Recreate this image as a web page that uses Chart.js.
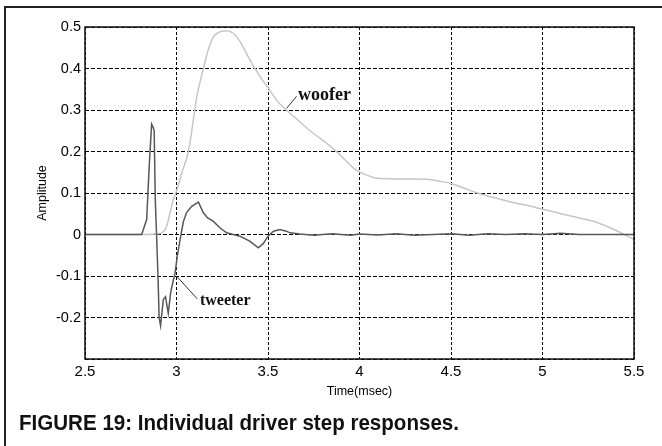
<!DOCTYPE html>
<html>
<head>
<meta charset="utf-8">
<script src="https://cdn.jsdelivr.net/npm/chart.js@4.4.1/dist/chart.umd.min.js"></script>
<style>
  html, body { margin: 0; padding: 0; background: #fff; }
  #wrap { width: 662px; height: 446px; position: relative; }
</style>
</head>
<body>
<div id="wrap"><canvas id="Chart" width="662" height="446"></canvas></div>
<script>
// woofer step response (time in msec, amplitude)
const woofT = [2.5, 2.8, 2.9, 2.92, 2.946, 2.98, 3.0, 3.03, 3.065, 3.09, 3.11, 3.13, 3.147, 3.17, 3.2, 3.23, 3.27,
  3.31, 3.35, 3.39, 3.43, 3.47, 3.5, 3.55, 3.6, 3.66, 3.73, 3.79, 3.84, 3.88, 3.92, 3.96, 3.99, 4.04, 4.08, 4.12,
  4.2, 4.3, 4.37, 4.44, 4.5, 4.57, 4.645, 4.7, 4.77, 4.85, 4.92, 4.99, 5.05, 5.12, 5.2, 5.28, 5.35, 5.42, 5.5];
const woofA = [0, 0, 0.002, 0.004, 0.02, 0.08, 0.105, 0.15, 0.2, 0.27, 0.33, 0.37, 0.4, 0.44, 0.475, 0.487, 0.491,
  0.485, 0.463, 0.43, 0.399, 0.372, 0.354, 0.322, 0.3, 0.277, 0.25, 0.23, 0.213, 0.198, 0.18, 0.163, 0.153, 0.143, 0.137, 0.135,
  0.134, 0.134, 0.133, 0.128, 0.123, 0.112, 0.1, 0.093, 0.085, 0.076, 0.07, 0.062, 0.056, 0.048, 0.04, 0.032, 0.02, 0.006, -0.012];

// tweeter step response
const tweetT = [2.5, 2.81, 2.837, 2.851, 2.864, 2.873, 2.878, 2.884, 2.891, 2.9, 2.905, 2.913, 2.92, 2.928, 2.94,
  2.955, 2.968, 2.98, 2.992, 3.005, 3.02, 3.037, 3.055, 3.083, 3.12, 3.146, 3.17, 3.2, 3.24, 3.274, 3.31, 3.347,
  3.4, 3.447, 3.474, 3.5, 3.53, 3.565, 3.6, 3.62, 3.675, 3.75, 3.85, 3.95, 4.0, 4.1, 4.2, 4.3, 4.4, 4.5, 4.6, 4.7,
  4.8, 4.9, 5.0, 5.1, 5.2, 5.5];
const tweetA = [0, 0, 0.036, 0.165, 0.266, 0.258, 0.25, 0.085, 0, -0.117, -0.2, -0.22, -0.19, -0.157, -0.15,
  -0.19, -0.14, -0.115, -0.093, -0.05, -0.012, 0.03, 0.053, 0.068, 0.078, 0.053, 0.04, 0.032, 0.015, 0.004, 0, -0.004,
  -0.016, -0.032, -0.022, -0.004, 0.008, 0.012, 0.008, 0.004, 0.001, -0.002, 0.002, -0.002, 0.001, -0.001, 0.002, -0.002, 0,
  0.002, -0.002, 0.002, 0, 0.002, 0, 0.003, 0, 0];

const xTitle = "Time(msec)";
const yTitle = "Amplitude";
const caption = "FIGURE 19: Individual driver step responses.";

// labels with their leader lines, in data units
const notes = [
  { text: "woofer", x: 3.664, y: 0.324, size: 18, from: [3.656, 0.333], to: [3.602, 0.304] },
  { text: "tweeter", x: 3.128, y: -0.169, size: 16, from: [3.113, -0.155], to: [3.0, -0.1] },
];

const toXY = (ts, as) => ts.map((t, i) => ({ x: t, y: as[i] }));
const fmt = (v) => String(Math.round(v * 10) / 10);
const sansFont = '"Liberation Sans", Arial, sans-serif';

const extras = {
  id: "extras",
  afterDatasetsDraw(chart) {
    const { ctx, chartArea: a, scales } = chart;
    const sx = scales.x, sy = scales.y;
    ctx.save();
    // axis box
    ctx.strokeStyle = "#111";
    ctx.lineWidth = 1.5;
    ctx.strokeRect(a.left, a.top, a.right - a.left, a.bottom - a.top);
    // notes
    notes.forEach((n) => {
      ctx.strokeStyle = "#333";
      ctx.lineWidth = 1;
      ctx.beginPath();
      ctx.moveTo(sx.getPixelForValue(n.from[0]), sy.getPixelForValue(n.from[1]));
      ctx.lineTo(sx.getPixelForValue(n.to[0]), sy.getPixelForValue(n.to[1]));
      ctx.stroke();
      ctx.fillStyle = "#111";
      ctx.font = "bold " + n.size + 'px "Liberation Serif", "Times New Roman", serif';
      ctx.textBaseline = "alphabetic";
      ctx.fillText(n.text, sx.getPixelForValue(n.x), sy.getPixelForValue(n.y));
    });
    ctx.restore();
  },
  afterDraw(chart) {
    const ctx = chart.ctx;
    ctx.save();
    // outer frame: top and left edges only
    ctx.strokeStyle = "#222";
    ctx.lineWidth = 2;
    ctx.beginPath();
    ctx.moveTo(662, 7);
    ctx.lineTo(5, 7);
    ctx.lineTo(5, 446);
    ctx.stroke();
    // caption, condensed bold
    ctx.fillStyle = "#111";
    ctx.font = 'bold 22px "Liberation Sans Narrow", "Liberation Sans", Arial, sans-serif';
    const w = ctx.measureText(caption).width;
    ctx.translate(19, 430);
    ctx.scale(440 / w, 1);
    ctx.textBaseline = "alphabetic";
    ctx.fillText(caption, 0, 0);
    ctx.restore();
  },
};

const makeChart = () => {
  const ctx = document.getElementById("Chart").getContext("2d");
  new Chart(ctx, {
    type: "line",
    data: {
      datasets: [
        {
          label: "tweeter",
          data: toXY(tweetT, tweetA),
          borderColor: "#585858",
          borderWidth: 1.5,
          pointRadius: 0,
          tension: 0,
        },
        {
          label: "woofer",
          data: toXY(woofT, woofA),
          borderColor: "#c6c6c6",
          borderWidth: 1.5,
          pointRadius: 0,
          cubicInterpolationMode: "monotone",
        },
      ],
    },
    options: {
      responsive: false,
      animation: false,
      layout: { padding: { top: 27, right: 28, left: 0, bottom: 0 } },
      plugins: { legend: { display: false }, tooltip: { enabled: false } },
      scales: {
        x: {
          type: "linear",
          min: 2.5,
          max: 5.5,
          afterFit: (s) => { s.height = 87; },
          ticks: { stepSize: 0.5, color: "#000", padding: 4, font: { family: sansFont, size: 15 }, callback: fmt },
          grid: { color: "#000", lineWidth: 1, drawTicks: false },
          border: { display: false, dash: [3, 2] },
          title: { display: true, text: xTitle, color: "#000", font: { family: sansFont, size: 12.5 }, padding: { bottom: 47, top: 0 } },
        },
        y: {
          min: -0.3,
          max: 0.5,
          afterFit: (s) => { s.width = 85; },
          ticks: {
            stepSize: 0.1,
            color: "#000",
            padding: 4,
            font: { family: sansFont, size: 14.5 },
            callback: (v) => (v < -0.25 ? "" : fmt(v)),
          },
          grid: { color: "#000", lineWidth: 1, drawTicks: false },
          border: { display: false, dash: [4, 2] },
          title: { display: true, text: yTitle, color: "#000", font: { family: sansFont, size: 12.5 }, padding: { top: 35, bottom: 0 } },
        },
      },
    },
    plugins: [extras],
  });
};
makeChart();
</script>
</body>
</html>
